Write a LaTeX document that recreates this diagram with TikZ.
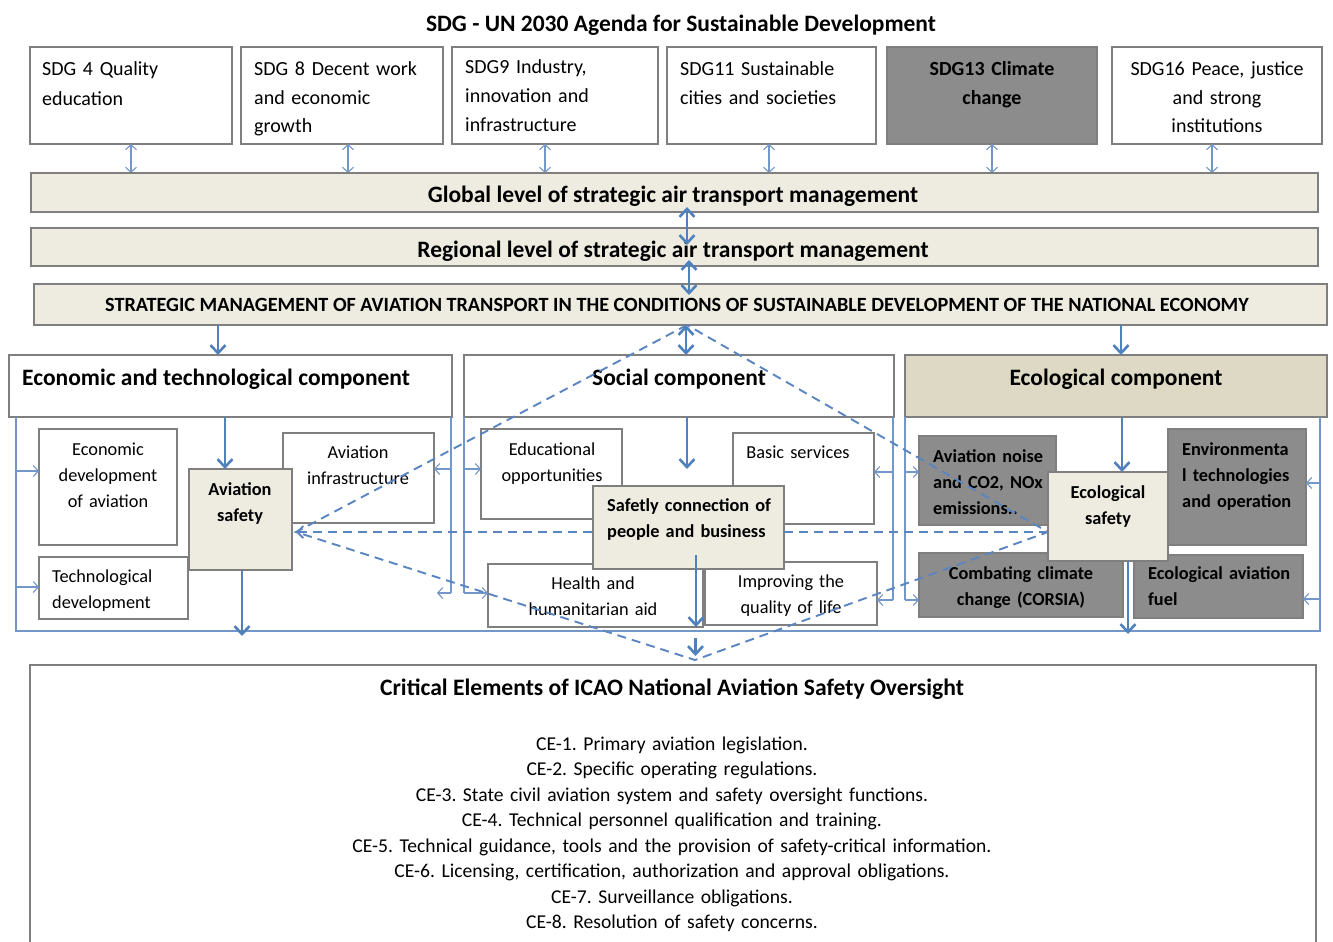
\documentclass[tikz,border=0pt]{standalone}
\usepackage{fontspec}
\setmainfont{Carlito}
\usetikzlibrary{arrows.meta}
\definecolor{beige}{HTML}{EEECE1}
\definecolor{beigedk}{HTML}{DDD9C4}
\definecolor{midgray}{HTML}{8C8C8C}
\definecolor{bordergray}{HTML}{7F7F7F}
\definecolor{ablue}{HTML}{4F81BD}
\definecolor{lblue}{HTML}{7397C9}
\definecolor{dblue}{HTML}{5A85C0}
\newcommand\sdgfont{\fontsize{20}{29}\selectfont}
\newcommand\subfont{\fontsize{18.3}{26}\selectfont}
\newcommand\hdrfont{\fontsize{23.5}{27}\selectfont\bfseries}
\newcommand\strfont{\fontsize{20.2}{23}\selectfont\bfseries}
\newcommand\cefont{\fontsize{19.6}{25.5}\selectfont}
\frenchspacing
\begin{document}
\begin{tikzpicture}[x=1pt,y=-1pt,
  box/.style={draw=bordergray,line width=1.3pt,fill=white,anchor=north west,inner sep=0pt,outer sep=0pt},
  sz/.style 2 args={minimum width=#1pt,minimum height=#2pt},
  lt/.style={inner sep=0pt,anchor=base west,align=left,text width=#1pt},
  ct/.style={inner sep=0pt,anchor=base,align=center,text width=#1pt},
  st/.style={inner sep=0pt,anchor=base},
  thickarr/.style={draw=ablue,line width=2.6pt,-{Straight Barb[length=8pt,width=15pt]}},
  dblthick/.style={draw=ablue,line width=2.6pt,{Straight Barb[length=8pt,width=15pt]}-{Straight Barb[length=8pt,width=15pt]}},
  thinarr/.style={draw=lblue,line width=1.1pt,-{Straight Barb[length=5pt,width=11pt]}},
  dblthin/.style={draw=lblue,line width=1.1pt,{Straight Barb[length=5pt,width=11pt]}-{Straight Barb[length=5pt,width=11pt]}},
  framel/.style={draw=lblue,line width=1.1pt},
  dashln/.style={draw=dblue,line width=1.9pt,dash pattern=on 9pt off 6pt},
]
\useasboundingbox (0,0) rectangle (1333,942);
\fill[white] (0,0) rectangle (1333,942);
\clip (0,0) rectangle (1333,942);

% title
\node[st,font=\fontsize{23.5}{27}\selectfont\bfseries] (title) at (681,32) {SDG - UN 2030 Agenda for Sustainable Development};

% SDG boxes
\node[box,sz={202}{97}] (sdg4) at (30,47) {};
\node[lt=185,font=\sdgfont] (sdg4t) at (42,76) {SDG 4 Quality\\education};
\node[box,sz={202}{97}] (sdg8) at (241,47) {};
\node[lt=185,font=\sdgfont] (sdg8t) at (254,75) {SDG 8 Decent work\\and economic\\growth};
\node[box,sz={206}{97}] (sdg9) at (452,47) {};
\node[lt=190,font=\sdgfont] (sdg9t) at (465,74) {SDG9 Industry,\\innovation and\\infrastructure};
\node[box,sz={209}{97}] (sdg11) at (667,47) {};
\node[lt=195,font=\sdgfont] (sdg11t) at (680,75) {SDG11 Sustainable\\cities and societies};
\node[box,fill=midgray,sz={210}{97}] (sdg13) at (887,47) {};
\node[ct=200,font=\sdgfont\bfseries] (sdg13t) at (992,75) {SDG13 Climate\\change};
\node[box,sz={210}{97}] (sdg16) at (1112,47) {};
\node[ct=205,font=\sdgfont] (sdg16t) at (1217,75) {SDG16 Peace, justice\\and strong\\institutions};

\draw[dblthin] (sdg4.south) -- ++(0,29);
\draw[dblthin] ([xshift=6pt]sdg8.south) -- ++(0,29);
\draw[dblthin] ([xshift=-10pt]sdg9.south) -- ++(0,29);
\draw[dblthin] ([xshift=-2.5pt]sdg11.south) -- ++(0,29);
\draw[dblthin] (sdg13.south) -- ++(0,29);
\draw[dblthin] ([xshift=-5pt]sdg16.south) -- ++(0,29);

% levels
\node[box,fill=beige,sz={1287}{39}] (global) at (31,173) {};
\node[st,font=\hdrfont] (globalt) at (673,202) {Global level of strategic air transport management};
\node[box,fill=beige,sz={1287}{38}] (regional) at (31,228) {};
\node[st,font=\hdrfont] (regionalt) at (673,257) {Regional level of strategic air transport management};
\node[box,fill=beige,sz={1293}{41}] (strategic) at (34,284) {};
\node[st,font=\strfont] (strategict) at (677,311) {STRATEGIC MANAGEMENT OF AVIATION TRANSPORT IN THE CONDITIONS OF SUSTAINABLE DEVELOPMENT OF THE NATIONAL ECONOMY};

% component headers
\node[box,sz={443}{62}] (econ) at (9,355) {};
\node[inner sep=0pt,anchor=base west,font=\hdrfont] (econt) at (22,385) {Economic and technological component};
\node[box,sz={430}{62}] (social) at (464,355) {};
\node[st,font=\hdrfont] (socialt) at (679,385) {Social component};
\node[box,fill=beigedk,sz={422}{62}] (eco) at (905,355) {};
\node[st,font=\hdrfont] (ecot) at (1116,385) {Ecological component};

% economic sub-boxes
\node[box,sz={138}{116}] (ecodev) at (39,429) {};
\node[ct=130,font=\subfont] (ecodevt) at (108,455) {Economic\\development\\of aviation};
\node[box,sz={149}{62}] (techdev) at (39,557) {};
\node[lt=140,font=\subfont] (techdevt) at (52,582) {Technological\\development};
\node[box,sz={151}{90}] (avinfra) at (283,433) {};
\node[ct=145,font=\subfont] (avinfrat) at (358,458) {Aviation\\infrastructure};

% social sub-boxes
\node[box,sz={141}{90}] (edu) at (481,429) {};
\node[ct=135,font=\subfont] (edut) at (552,455) {Educational\\opportunities};
\node[box,sz={141}{91}] (basic) at (733,433) {};
\node[ct=135,font=\subfont] (basict) at (798,458) {Basic services};
\node[box,sz={215}{63}] (health) at (488,564) {};
\node[ct=210,font=\subfont] (healtht) at (593,589) {Health and\\humanitarian aid};
\node[box,sz={172}{63}] (improv) at (705,562) {};
\node[ct=165,font=\subfont] (improvt) at (791,587) {Improving the\\quality of life};

% ecological sub-boxes
\node[box,fill=midgray,sz={137}{89}] (noise) at (919,436) {};
\node[lt=180,font=\subfont\bfseries] (noiset) at (933,462) {Aviation noise\\and CO2, NOx\\emissions..};
\node[box,fill=midgray,sz={138}{116}] (env) at (1168,429) {};
\node[lt=180,font=\subfont\bfseries] (envt) at (1182,455) {Environmenta\\l technologies\\and operation};
\node[box,fill=midgray,sz={204}{64}] (combat) at (919,553) {};
\node[ct=200,font=\subfont\bfseries] (combatt) at (1021,579) {Combating climate\\change (CORSIA)};
\node[box,fill=midgray,sz={169}{63}] (fuel) at (1134,555) {};
\node[lt=200,font=\subfont\bfseries] (fuelt) at (1148,579) {Ecological aviation\\fuel};

% frame lines and thin arrows
\draw[framel] (16,417) -- (16,631) -- (1320,631) -- (1320,417);
\coordinate (eL1) at (16,471); \draw[thinarr] (eL1) -- (eL1 -| ecodev.west);
\coordinate (eL2) at (16,587); \draw[thinarr] (eL2) -- (eL2 -| techdev.west);
\draw[framel] (451,417) -- (451,593);
\coordinate (eR1) at (451,469); \draw[thinarr] (eR1) -- (eR1 -| avinfra.east);
\coordinate (eR2) at (451,593); \draw[thinarr] (eR2) -- ++(-14,0);
\draw[framel] (464,417) -- (464,593);
\coordinate (sL1) at (464,469); \draw[thinarr] (sL1) -- (sL1 -| edu.west);
\coordinate (sL2) at (464,593); \draw[thinarr] (sL2) -- (sL2 -| health.west);
\draw[framel] (893,417) -- (893,600);
\coordinate (sR1) at (893,472); \draw[thinarr] (sR1) -- (sR1 -| basic.east);
\coordinate (sR2) at (893,600); \draw[thinarr] (sR2) -- (sR2 -| improv.east);
\draw[framel] (905,417) -- (905,600);
\coordinate (cL1) at (905,472); \draw[thinarr] (cL1) -- (cL1 -| noise.west);
\coordinate (cL2) at (905,600); \draw[thinarr] (cL2) -- (cL2 -| combat.west);
\coordinate (cR1) at (1320,483); \draw[thinarr] (cR1) -- (cR1 -| env.east);
\coordinate (cR2) at (1320,599); \draw[thinarr] (cR2) -- (cR2 -| fuel.east);

% bottom box
\node[box,sz={1286}{300}] (ce) at (30,665) {};
\node[st,font=\fontsize{23.6}{27}\selectfont\bfseries] (cetitle) at (672,695) {Critical Elements of ICAO National Aviation Safety Oversight};
\node[ct=1100,font=\cefont] (celist) at (672,750) {CE-1. Primary aviation legislation.\\
CE-2. Specific operating regulations.\\
CE-3. State civil aviation system and safety oversight functions.\\
CE-4. Technical personnel qualification and training.\\
CE-5. Technical guidance, tools and the provision of safety-critical information.\\
CE-6. Licensing, certification, authorization and approval obligations.\\
CE-7. Surveillance obligations.\\
CE-8. Resolution of safety concerns.};

% dashed diamond
\coordinate (dT) at (687,325);
\coordinate (dL) at (296,532);
\coordinate (dB) at (695,660);
\coordinate (dR) at (1048,532);
\draw[dashln] (dT) -- (dL) -- (dB) -- (dR) -- cycle;

% safety boxes
\node[box,fill=beige,sz={103}{101}] (avsafe) at (189,469) {};
\node[ct=100,font=\subfont\bfseries] (avsafet) at (240,495) {Aviation\\safety};
\node[box,fill=beige,sz={191}{83}] (safeconn) at (593,486) {};
\node[lt=185,font=\subfont\bfseries] (safeconnt) at (607,511) {Safetly connection of\\people and business};
\node[box,fill=beige,sz={120}{89}] (ecosafe) at (1048,472) {};
\node[ct=115,font=\subfont\bfseries] (ecosafet) at (1108,498) {Ecological\\safety};

\draw[dashln,{Straight Barb[length=6pt,width=12pt]}-] (dL) -- (dL -| safeconn.west);
\draw[dashln] (dR -| safeconn.east) -- (dR);

% thick arrows
\draw[dblthick] ([xshift=12.5pt,yshift=5pt]global.south) -- ++(0,38);
\draw[dblthick] ([xshift=14.5pt,yshift=6pt]regional.south) -- ++(0,35);
\draw[thickarr] ([xshift=-12.5pt]econ.north) ++(0,-30) -- ([xshift=-12.5pt]econ.north);
\draw[dblthick] ([xshift=7pt]social.north) ++(0,-30) -- ([xshift=7pt]social.north);
\draw[thickarr] ([xshift=5pt]eco.north) ++(0,-30) -- ([xshift=5pt]eco.north);
\draw[thickarr] ([xshift=-5.5pt]econ.south) -- ([xshift=-15.5pt]avsafe.north);
\draw[thickarr] ([xshift=1.5pt]avsafe.south) -- ++(0,66);
\draw[thickarr] ([xshift=8pt]social.south) -- ++(0,52);
\draw[thickarr] ([xshift=7.5pt,yshift=14pt]safeconn.south) -- ++(0,72);
\draw[thickarr] ([xshift=7pt]safeconn.south) ++(0,69) -- ++(0,18);
\draw[thickarr] ([xshift=6pt]eco.south) -- ([xshift=14pt]ecosafe.north);
\draw[thickarr] ([xshift=20pt]ecosafe.south) -- ++(0,73);
\end{tikzpicture}
\end{document}
